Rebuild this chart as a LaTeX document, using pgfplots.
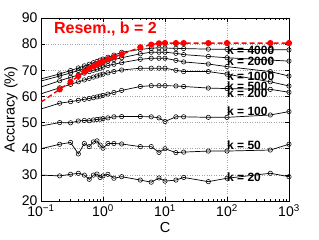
\documentclass[border=0pt]{standalone}
\usepackage{pgfplots}
\pgfplotsset{compat=1.18}
\usepackage{pgfplotstable}
\usepackage{fontspec}
\setmainfont{Liberation Sans}

\pgfplotstableread{
C k4000 k2000 k1000 k500 k200 k100 k50 k20 red
0.1 66.7 65.9 63.6 61.0 55.2 48.7 40.0 29.9 57.8
0.2 68.6 67.8 66.0 63.3 57.4 50.0 41.7 29.6 62.7
0.3 69.9 69.0 67.3 64.6 58.0 49.9 42.4 30.2 65.6
0.4 70.9 69.9 68.2 65.6 58.5 50.6 38.0 30.6 67.8
0.5 71.7 70.6 68.9 66.3 58.9 50.8 42.0 29.9 69.5
0.6 72.3 71.2 69.5 66.9 59.2 50.7 40.8 28.3 70.6
0.7 72.9 71.7 70.0 67.4 59.5 51.0 42.6 29.9 71.5
0.8 73.4 72.1 70.4 67.8 59.8 51.2 43.0 30.3 72.3
0.9 73.9 72.5 70.8 68.2 60.1 51.3 41.4 29.0 72.9
1 74.3 72.9 71.2 68.5 60.4 51.5 40.2 29.6 73.4
1.2 75.0 73.5 71.8 69.0 60.9 51.8 42.0 30.2 74.2
1.5 75.8 74.1 72.3 69.5 61.5 52.2 42.0 28.7 75.0
2 76.9 74.8 72.9 70.1 62.3 52.3 41.8 29.3 76.1
4 78.0 76.3 74.2 70.8 63.8 52.3 40.8 28.0 78.8
6 78.4 76.9 74.6 70.8 64.1 52.2 40.8 27.2 79.8
8 78.6 76.9 74.6 70.8 64.1 51.8 38.6 28.8 80.3
10 78.5 76.9 74.6 70.8 64.1 50.4 40.0 27.6 80.4
15 78.4 76.5 73.8 70.0 64.0 52.2 38.5 28.0 80.4
20 78.3 76.0 73.2 69.5 63.8 52.2 38.7 29.0 80.4
50 78.1 75.3 72.4 69.5 63.2 52.0 39.1 27.4 80.4
100 78.0 74.8 71.4 68.5 63.0 52.0 39.1 28.7 80.4
500 77.9 73.9 69.5 65.6 62.7 52.9 39.5 30.6 80.4
1000 77.8 73.5 67.8 64.0 61.6 54.2 41.7 29.3 80.4
}\data

\pgfplotsset{
  kline/.style={black, line width=0.7pt, mark=o, mark size=2.2pt,
    mark options={solid, line width=0.55pt},
    mark indices={2,3,4,5,6,7,8,9,10,11,12,13,14,15,16,17,18,19,20,21,22,23}}
}
\tikzset{
  klabel/.style={anchor=west, inner sep=0pt, font=\bfseries\fontsize{12}{12}\selectfont}
}

\begin{document}
\begin{tikzpicture}
\begin{axis}[name=ax, scale only axis, width=248pt, height=183pt,
  xmode=log, xmin=0.1, xmax=1000, ymin=20, ymax=90,
  xtick={0.1,1,10,100,1000},
  xticklabels={10\textsuperscript{\textminus1},10\textsuperscript{0},10\textsuperscript{1},10\textsuperscript{2},10\textsuperscript{3}},
  ytick={20,30,...,90},
  /pgf/number format/assume math mode=true,
  tick label style={font=\fontsize{14}{14}\selectfont},
  label style={font=\fontsize{14.5}{14.5}\selectfont},
  xlabel={C}, ylabel={Accuracy (\%)},
  xlabel style={at={(axis description cs:0.5,-0.1475)}, anchor=center},
  ylabel style={at={(axis description cs:-0.121,0.5)}, anchor=center},
  grid=major, major grid style={dotted, gray!70, line width=0.5pt},
  axis line style={line width=0.6pt},
  tick style={line width=0.5pt, black},
  major tick length=4pt, minor tick length=2pt,
]
\addplot[kline] table[x=C,y=k4000]{\data};
\addplot[kline] table[x=C,y=k2000]{\data};
\addplot[kline] table[x=C,y=k1000]{\data};
\addplot[kline] table[x=C,y=k500]{\data};
\addplot[kline] table[x=C,y=k200]{\data};
\addplot[kline] table[x=C,y=k100]{\data};
\addplot[kline] table[x=C,y=k50]{\data};
\addplot[kline] table[x=C,y=k20]{\data};
\addplot[red, line width=1.4pt, dash pattern=on 5pt off 3pt, mark=*, mark size=2.4pt,
  mark options={solid},
  mark indices={2,3,4,5,6,7,8,9,10,11,12,13,14,15,16,17,18,19,20,21,22,23}]
  table[x=C,y=red]{\data};
\node[klabel] at (axis cs:100,77.5) {k = 4000};
\node[klabel] at (axis cs:100,73.5) {k = 2000};
\node[klabel] at (axis cs:100,67.8) {k = 1000};
\node[klabel] at (axis cs:100,64.0) {k = 500};
\node[klabel] at (axis cs:100,61.1) {k = 200};
\node[klabel] at (axis cs:100,54.2) {k = 100};
\node[klabel] at (axis cs:100,41.4) {k = 50};
\node[klabel] at (axis cs:100,29.1) {k = 20};
\node[anchor=west, inner sep=0pt, text=red, font=\bfseries\fontsize{16}{16}\selectfont]
  at (rel axis cs:0.052,0.94) {Resem., b = 2};
\end{axis}
\pgfresetboundingbox
\path[use as bounding box] ([xshift=-41pt,yshift=-39pt]ax.south west) rectangle ([xshift=30pt,yshift=18pt]ax.north east);
\end{tikzpicture}
\end{document}
